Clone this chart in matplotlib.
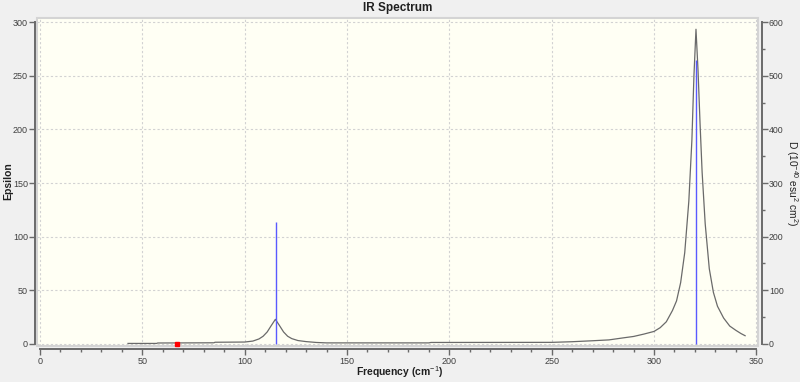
import matplotlib
matplotlib.use("Agg")
import matplotlib.pyplot as plt
from matplotlib.ticker import MultipleLocator

plt.rcParams['font.family'] = ['Liberation Sans', 'DejaVu Sans']
plt.rcParams['mathtext.fontset'] = 'custom'
plt.rcParams['mathtext.rm'] = 'Liberation Sans'
plt.rcParams['mathtext.it'] = 'Liberation Sans'
plt.rcParams['mathtext.bf'] = 'Liberation Sans:bold'

# broadened spectrum (frequency cm-1, epsilon)
freq = [43, 57, 57.5, 85, 85.5, 100, 104, 107, 109, 111, 113, 115, 117, 119,
        121, 123, 126, 130, 135, 140, 190, 191, 250, 260, 270, 278, 285, 290,
        295, 300, 303, 306, 309, 311, 313, 315, 317, 318.5, 319.5, 320.5,
        321.5, 322.5, 323.5, 325, 327, 329, 331, 334, 337, 340, 342.5, 344.5]
epsilon = [0.3, 0.3, 0.7, 0.9, 1.4, 1.6, 2.5, 4.5, 7, 11, 17, 22.8, 17, 11,
           7, 4.8, 3, 2, 1.2, 0.8, 0.8, 1.2, 1.3, 1.9, 2.8, 3.6, 5.5, 6.8,
           9, 11.5, 15, 20.5, 31, 40, 57, 85, 133, 190, 250, 293.5,
           255, 205, 160, 112, 70, 48, 35, 24, 16.5, 12.5, 9.5, 7.5]

# dipole strength sticks (right axis)
stick_freq = [115.1, 320.5]
stick_d = [226.7, 530]

# current mode marker
marker_freq = 67

fig = plt.figure(figsize=(8, 3.82), dpi=100)
fig.patch.set_facecolor('#f0f0f0')

ax = fig.add_axes([37 / 800, 1 - 346 / 382, 721 / 800, 328 / 382])
ax.set_facecolor('#fffff4')
ax.patch.set_edgecolor('#d4d4d4')
ax.patch.set_linewidth(1.5)
ax.set_xlim(-1.47, 350.8)
ax.set_ylim(-2.1, 304)

ax2 = ax.twinx()
ax2.set_ylim(-4.2, 608)

# grid
ax.xaxis.set_major_locator(MultipleLocator(50))
ax.xaxis.set_minor_locator(MultipleLocator(10))
ax.yaxis.set_major_locator(MultipleLocator(50))
ax.grid(True, which='major', color='#d2d2d2', linestyle=(0, (2, 2)), linewidth=0.8)
ax.set_axisbelow(True)

# data
ax.plot(freq, epsilon, color='#6a6a6a', linewidth=0.9, zorder=3)
ax2.vlines(stick_freq, 0, stick_d, color='#5a5aff', linewidth=1.0, zorder=4)
ax.plot([marker_freq], [0], marker='s', markersize=3, color='red',
        linestyle='none', zorder=5, clip_on=False)

# spines
for a in (ax, ax2):
    a.spines['top'].set_visible(False)
ax.spines['right'].set_visible(False)
ax2.spines['left'].set_visible(False)
ax2.spines['bottom'].set_visible(False)

spine_col = '#6a6a6a'
ax.spines['left'].set_position(('outward', 1.44))
ax.spines['left'].set_bounds(0, 300)
ax.spines['left'].set_color(spine_col)
ax.spines['left'].set_linewidth(1.4)
ax.spines['bottom'].set_position(('outward', 2.2))
ax.spines['bottom'].set_bounds(0, 350)
ax.spines['bottom'].set_color(spine_col)
ax.spines['bottom'].set_linewidth(1.4)
ax2.spines['right'].set_position(('outward', 2.9))
ax2.spines['right'].set_bounds(0, 600)
ax2.spines['right'].set_color(spine_col)
ax2.spines['right'].set_linewidth(1.4)

ax2.yaxis.set_major_locator(MultipleLocator(100))
ax2.yaxis.set_minor_locator(MultipleLocator(50))

tick_col = '#404040'
ax.tick_params(axis='x', which='major', length=4, width=1, color=spine_col,
               labelsize=6.5, labelcolor=tick_col, pad=1.5)
ax.tick_params(axis='x', which='minor', length=2.5, width=1, color=spine_col)
ax.tick_params(axis='y', which='major', length=4, width=1, color=spine_col,
               labelsize=6.5, labelcolor=tick_col, pad=1)
ax2.tick_params(axis='y', which='major', length=4, width=1, color=spine_col,
                labelsize=6.3, labelcolor=tick_col, pad=1)
ax2.tick_params(axis='y', which='minor', length=2.5, width=1, color=spine_col)

# labels
fig.text(398 / 800, 1 - 8 / 382, 'IR Spectrum', ha='center', va='center',
         fontsize=8.5, fontweight='bold', color='#202020')
fig.text(400 / 800, 1 - 372 / 382, 'Frequency (cm$^{-1}$)', ha='center',
         va='center', fontsize=7.5, fontweight='bold', color='#202020')
fig.text(8 / 800, 1 - 181 / 382, 'Epsilon', ha='center', va='center',
         rotation=90, fontsize=7.5, fontweight='bold', color='#202020')
fig.text(792 / 800, 1 - 183 / 382, 'D (10$^{-40}$ esu$^2$ cm$^2$)',
         ha='center', va='center', rotation=270, fontsize=7.3, color='#202020')

fig.savefig('out.png', dpi=100, facecolor=fig.get_facecolor())
